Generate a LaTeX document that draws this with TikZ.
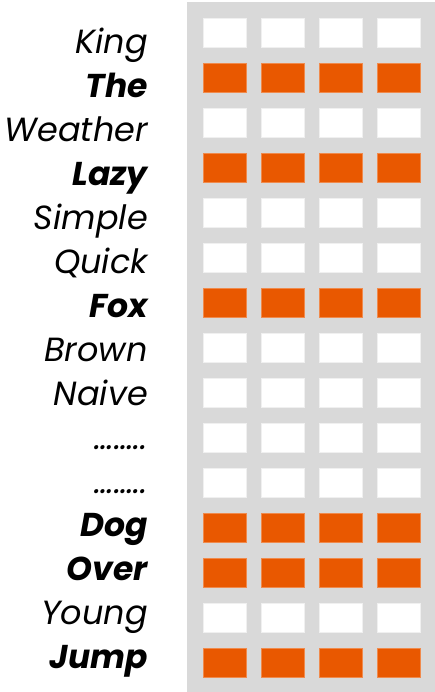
\documentclass[tikz,border=0pt]{standalone}
\usepackage{fontspec}
\setmainfont{Poppins}
\usetikzlibrary{positioning}
\definecolor{cellorange}{HTML}{E95800}
\definecolor{panelgray}{HTML}{D9D9D9}

\begin{document}
\begin{tikzpicture}[x=1pt, y=-1pt,
  cool word/.style={anchor=base east, inner sep=0pt, font=\fontsize{33.5}{33.5}\selectfont\itshape},
  hot word/.style={cool word, font=\fontsize{33}{33}\selectfont\bfseries\itshape},
  cool cell/.style={draw=gray!12, fill=white, minimum width=43pt, minimum height=29pt, inner sep=0pt},
  hot cell/.style={cool cell, draw=cellorange!70, fill=cellorange}
]
  \useasboundingbox (0,0) rectangle (435,692);
  % grey backing panel
  \fill[panelgray] (187,2) rectangle (435,692);
  % one row per word
  \foreach \w/\s [count=\i from 0] in {King/cool, The/hot, Weather/cool, Lazy/hot,
      Simple/cool, Quick/cool, Fox/hot, Brown/cool, Naive/cool, ……../cool,
      ……../cool, Dog/hot, Over/hot, Young/cool, Jump/hot}{
    \node[\s\space word] (w\i) at (148, 54+43.9*\i) {\w};
    \foreach \c in {0,...,3}
      \node[\s\space cell] (c\i-\c) at (224.5+58*\c, 32.5+45*\i) {};
  }
\end{tikzpicture}
\end{document}
